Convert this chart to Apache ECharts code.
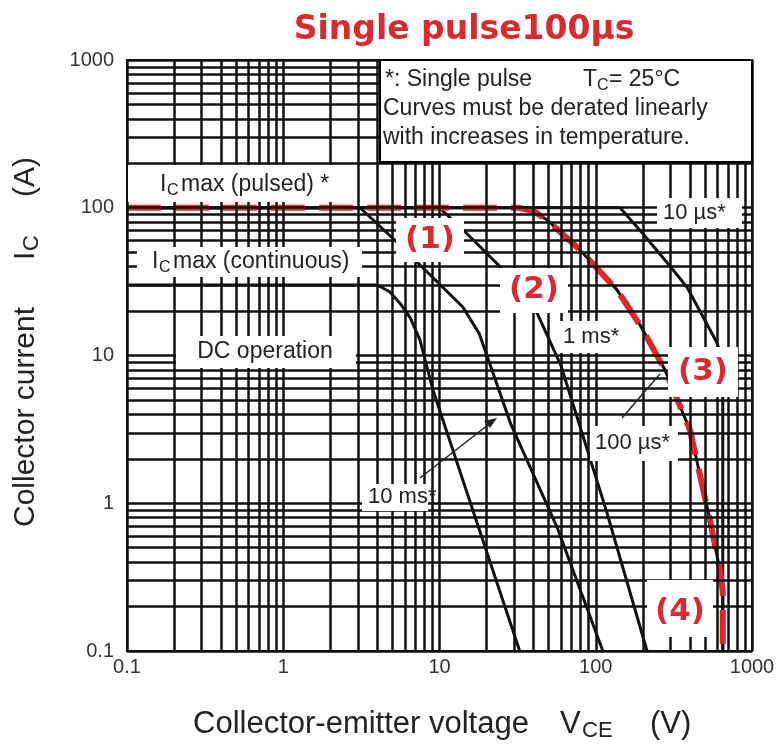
<!DOCTYPE html>
<html>
<head>
<meta charset="utf-8">
<script src="https://cdn.jsdelivr.net/npm/echarts@6/dist/echarts.min.js"></script>
<style>
  html, body { margin: 0; padding: 0; background: #fff; }
  #chart { width: 778px; height: 744px; }
</style>
</head>
<body>
<div id="chart"></div>
<script>
// Safe operating area of an IGBT: collector current vs collector-emitter voltage, log-log.

// Decade ticks of both axes
const xTicks = [0.1, 1, 10, 100, 1000];
const yTicks = [0.1, 1, 10, 100, 1000];
const tickLabels = ['0.1', '1', '10', '100', '1000'];
// Minor grid multipliers inside each decade
const gridMultipliers = [1, 2, 3, 4, 5, 6, 7, 8, 9];

// DC operation (limited by Ic max continuous = 30 A)
const dcV = [0.1, 4.0, 4.8, 5.6, 6.5, 7.5, 9.1, 15, 32.6];
const dcI = [30, 30, 27, 22.5, 18, 12.7, 5.8, 1.18, 0.1];

// 10 ms single pulse
const ms10V = [0.1, 3.1, 5.2, 14.1, 18, 28.7, 56.5, 111];
const ms10I = [100, 100, 60, 21.3, 14, 3.4, 0.69, 0.1];

// 1 ms single pulse
const ms1V = [0.1, 10, 15, 26.2, 42.1, 60, 118, 213];
const ms1I = [100, 100, 66.7, 37, 19.4, 8.5, 0.86, 0.1];

// 100 us single pulse (highlighted envelope)
const us100V = [0.1, 32, 40, 48.8, 79.3, 136.8, 192, 277, 401, 538, 624, 650, 650];
const us100I = [100, 100, 95, 82.7, 51.8, 27.8, 16.1, 8.0, 3.13, 0.77, 0.35, 0.25, 0.1];

// 10 us single pulse
const us10V = [0.1, 143, 200, 300, 384, 597, 650, 650];
const us10I = [100, 100, 67, 40, 29, 12.2, 9, 0.1];

function pairs(xs, ys) { return xs.map((x, i) => [x, ys[i]]); }
function gridValues(ticks) {
  const out = [];
  for (let i = 0; i < ticks.length - 1; i++) {
    for (const m of gridMultipliers) out.push(+(ticks[i] * m).toPrecision(6));
  }
  out.push(ticks[ticks.length - 1]);
  return out;
}
function tickText(v) {
  const i = xTicks.findIndex(t => Math.abs(Math.log10(t) - Math.log10(v)) < 1e-6);
  return i >= 0 ? tickLabels[i] : '';
}

const RED = '#d92a2f';
const INK = '#111';
const TXT = '#222';
const SANS = '"Liberation Sans", Arial, sans-serif';
const Z = 50;

function box(x, y, w, h, stroke) {
  return { type: 'rect', z: Z, shape: { x, y, width: w, height: h },
    style: { fill: '#fff', stroke: stroke || null, lineWidth: stroke ? 2 : 0 } };
}
function txt(x, y, text, font, opts) {
  opts = opts || {};
  const align = opts.align || 'left';
  return { type: 'text', z: Z + 1, x, y, rotation: opts.rotation || 0,
    style: { text, font, fill: opts.fill || TXT,
      align, verticalAlign: 'middle', textAlign: align, textVerticalAlign: 'middle' } };
}

const labelFont = '23px ' + SANS;
const curveFont = '22px ' + SANS;
const subFont = '16px ' + SANS;
const tagFont = 'bold 31px "DejaVu Sans", sans-serif';

const graphics = [
  // title
  txt(464, 30, 'Single pulse100µs', 'bold 33px "DejaVu Sans", sans-serif', { align: 'center', fill: RED }),

  // note box
  box(380, 60, 372, 102, '#000'),
  txt(385, 80, '*: Single pulse', labelFont),
  txt(583, 80, 'T', labelFont),
  txt(597, 86, 'C', subFont),
  txt(609, 80, '= 25°C', labelFont),
  txt(383, 109, 'Curves must be derated linearly', labelFont),
  txt(383, 138, 'with increases in temperature.', labelFont),

  // limit labels
  box(128, 165, 228, 37),
  txt(160, 185, 'I', labelFont),
  txt(167, 191, 'C', subFont),
  txt(181, 185, 'max (pulsed) *', labelFont),
  box(137, 247, 225, 30),
  txt(152, 262, 'I', labelFont),
  txt(159, 268, 'C', subFont),
  txt(173, 262, 'max (continuous)', labelFont),
  box(176, 336, 180, 32),
  txt(265, 352, 'DC operation', labelFont, { align: 'center' }),

  // curve labels
  box(362, 484, 66, 27),
  txt(368, 497, '10 ms*', curveFont),
  box(557, 321, 68, 32),
  txt(563, 337, '1 ms*', curveFont),
  box(590, 426, 88, 35),
  txt(595, 443, '100 µs*', curveFont),
  box(657, 198, 85, 30),
  txt(663, 213, '10 µs*', curveFont),

  // leader lines
  { type: 'polyline', z: Z + 2, shape: { points: [[420, 478], [493, 421]] },
    style: { stroke: TXT, lineWidth: 1.5, fill: null } },
  { type: 'polygon', z: Z + 2, shape: { points: [[497, 418], [484, 421], [490, 428]] },
    style: { fill: TXT } },
  { type: 'polyline', z: Z + 2, shape: { points: [[622, 418], [640, 397], [660, 374]] },
    style: { stroke: TXT, lineWidth: 1.5, fill: null } },

  // region tags
  box(396, 218, 68, 44),
  txt(430, 240, '(1)', tagFont, { align: 'center', fill: RED }),
  box(500, 268, 68, 45),
  txt(534, 290, '(2)', tagFont, { align: 'center', fill: RED }),
  box(668, 347, 70, 50),
  txt(703, 372, '(3)', tagFont, { align: 'center', fill: RED }),
  box(647, 580, 66, 57),
  txt(680, 612, '(4)', tagFont, { align: 'center', fill: RED }),

  // axis titles
  txt(193, 724, 'Collector-emitter voltage', '31px ' + SANS),
  txt(560, 724, 'V', '31px ' + SANS),
  txt(582, 731, 'CE', '22px ' + SANS),
  txt(650, 724, '(V)', '31px ' + SANS),
  txt(26, 527, 'Collector current', '30px ' + SANS, { rotation: Math.PI / 2 }),
  txt(26, 260, 'I', '30px ' + SANS, { rotation: Math.PI / 2 }),
  txt(32, 251, 'C', '22px ' + SANS, { rotation: Math.PI / 2 }),
  txt(26, 197, '(A)', '30px ' + SANS, { rotation: Math.PI / 2 })
];

const gridLines = gridValues(xTicks).map(v => ({ xAxis: v }))
  .concat(gridValues(yTicks).map(v => ({ yAxis: v })));

function curve(name, xs, ys) {
  return { name, type: 'line', data: pairs(xs, ys), showSymbol: false, symbol: 'none',
    z: 3, silent: true, lineStyle: { color: INK, width: 3 } };
}

const chart = echarts.init(document.getElementById('chart'), null, { renderer: 'canvas' });
chart.setOption({
  animation: false,
  backgroundColor: '#fff',
  grid: { left: 127, right: 26, top: 60, bottom: 93, show: true,
    borderColor: '#000', borderWidth: 2, backgroundColor: '#fff' },
  xAxis: {
    type: 'log', logBase: 10, min: xTicks[0], max: xTicks[xTicks.length - 1],
    axisLine: { show: true, lineStyle: { color: '#000', width: 2 } },
    axisTick: { show: false }, splitLine: { show: false },
    axisLabel: { fontSize: 20, color: '#333', margin: 6, fontFamily: SANS, formatter: tickText }
  },
  yAxis: {
    type: 'log', logBase: 10, min: yTicks[0], max: yTicks[yTicks.length - 1],
    axisLine: { show: true, lineStyle: { color: '#000', width: 2 } },
    axisTick: { show: false }, splitLine: { show: false },
    axisLabel: { fontSize: 20, color: '#333', margin: 13, fontFamily: SANS, formatter: tickText }
  },
  series: [
    { name: 'grid', type: 'line', data: [], z: 1, silent: true,
      markLine: { silent: true, symbol: ['none', 'none'], label: { show: false },
        lineStyle: { color: INK, width: 2.5, type: 'solid' }, data: gridLines } },
    curve('DC operation', dcV, dcI),
    curve('10 ms', ms10V, ms10I),
    curve('1 ms', ms1V, ms1I),
    curve('100 us', us100V, us100I),
    curve('10 us', us10V, us10I),
    { name: '100 us envelope', type: 'line', data: pairs(us100V, us100I), showSymbol: false,
      symbol: 'none', z: 4, silent: true,
      lineStyle: { color: '#e0262c', width: 6, type: [34, 14] } }
  ],
  graphic: { elements: graphics }
});
</script>
</body>
</html>
